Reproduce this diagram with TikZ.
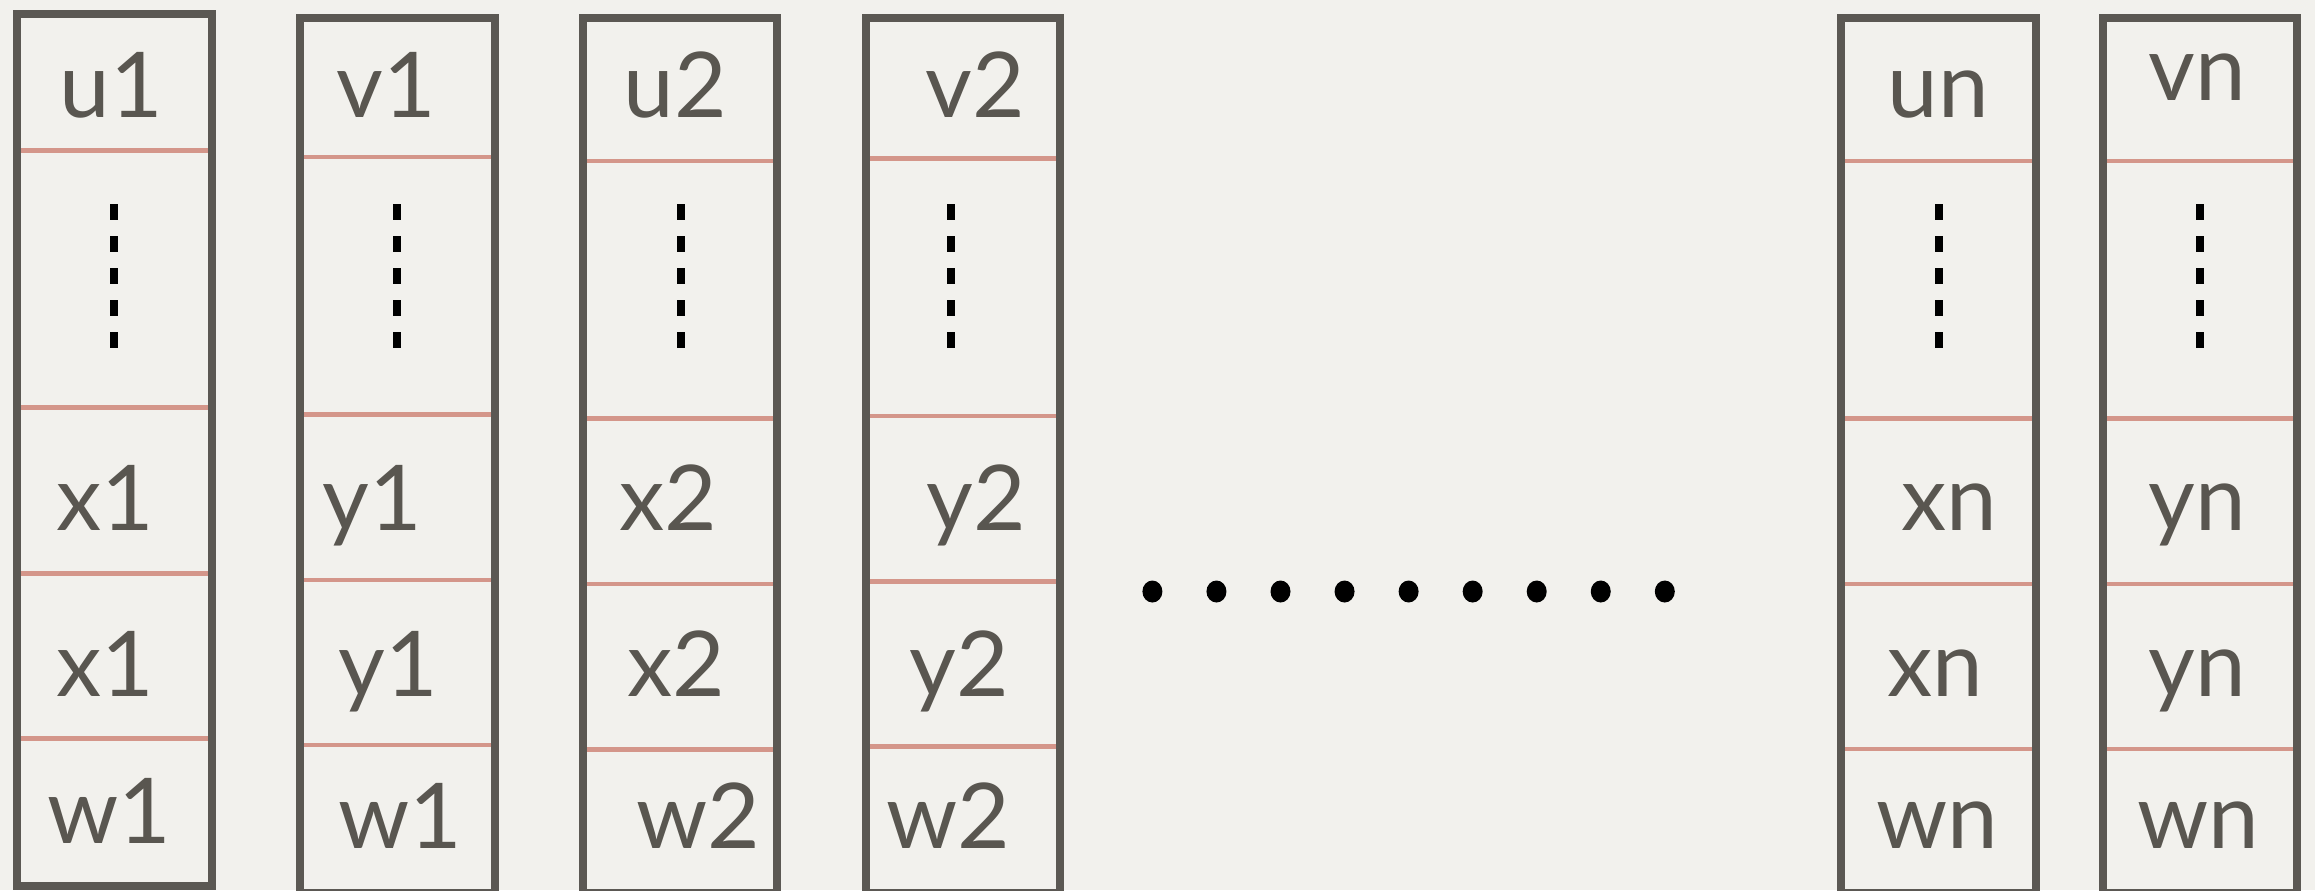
\documentclass[tikz,border=0pt]{standalone}
\usepackage{fontspec}
\setmainfont{Lato}
\usepackage{tikz}
\definecolor{paper}{RGB}{242,241,237}
\definecolor{colgray}{RGB}{91,88,83}
\definecolor{seprose}{RGB}{212,150,138}
\definecolor{txtgray}{RGB}{89,86,80}

\begin{document}
\begin{tikzpicture}[
  x=0.01cm, y=-0.01cm,
  col/.style={draw=colgray, line width=0.08cm},
  sep/.style={draw=seprose, line width=0.047cm},
  lbl/.style={anchor=base, inner sep=0pt, text=txtgray, font=\fontsize{25.8}{30}\selectfont},
  vdash/.style={draw=black, line width=0.08cm, dash pattern=on 0.16cm off 0.16cm},
  dot/.style={fill=black}
]
\useasboundingbox (0,0) rectangle (2315,890);
\fill[paper] (0,0) rectangle (2315,890);
\clip (0,0) rectangle (2315,890);

% columns: left/right/top/bottom and the four separator heights
\foreach \l/\r/\t/\b/\sa/\sb/\sc/\sd in {
  17/212/14/886/150.7/407.7/573.3/738.3,
  300/494.7/18/893/157/414.3/580/745,
  582.5/777/17.5/893/161/418.3/584/749.3,
  865.5/1060/18/893/158.7/416/581.3/746.7,
  1841/2036/18/893/161/418.7/584/749,
  2103/2297/18/893/161/418.7/584/749}{
  \foreach \s in {\sa,\sb,\sc,\sd}
    \draw[sep] (\l,\s) -- (\r,\s);
  \draw[col] (\l,\t) rectangle (\r,\b);
}

% vertical ellipsis in each column
\foreach \dx in {114,396.7,680.7,950.7,1938.7,2200}
  \draw[vdash] (\dx,204) -- (\dx,348);

% labels
\foreach \px/\py/\txt/\nm in {
  111/117/u1/u1, 105/530.7/x1/x1a, 105/696.7/x1/x1b, 109/843/w1/w1a,
  386.7/117/v1/v1, 372/530.7/y1/y1a, 388.5/696.7/y1/y1b, 400/848/w1/w1b,
  675/117/u2/u2, 668.5/530.7/x2/x2a, 676.7/696.7/x2/x2b, 698/848/w2/w2a,
  975/117/v2/v2, 976/530.7/y2/y2a, 959.5/696.7/y2/y2b, 948/848/w2/w2b,
  1938/117/un/un, 1949/530.7/xn/xna, 1935.5/696.7/xn/xnb, 1937.5/848/wn/wna,
  2197/100.7/vn/vn, 2197/530.7/yn/yna, 2197/696.7/yn/ynb, 2198/848/wn/wnb}
  \node[lbl] (\nm) at (\px,\py) {\txt};

% horizontal dots between the groups
\foreach \k in {0,...,8}
  \fill[dot] (1152.4+64.05*\k,591.5) ellipse [x radius=10, y radius=11];
\end{tikzpicture}
\end{document}
